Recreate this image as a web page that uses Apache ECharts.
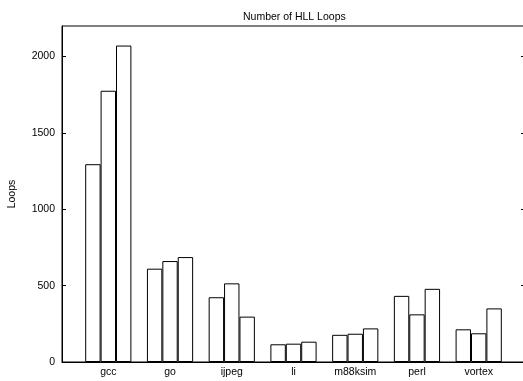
<!DOCTYPE html>
<html>
<head>
<meta charset="utf-8">
<script src="https://cdn.jsdelivr.net/npm/echarts@6/dist/echarts.min.js"></script>
<style>
  html, body { margin: 0; padding: 0; background: #fff; }
  #chart { width: 523px; height: 381px; }
</style>
</head>
<body>
<div id="chart"></div>
<script>
// benchmarks and three loop counts per benchmark
const benchmarks = ['gcc', 'go', 'ijpeg', 'li', 'm88ksim', 'perl', 'vortex'];
const loopsA = [1295, 611, 424, 116, 178, 433, 214];
const loopsB = [1776, 661, 515, 120, 185, 312, 188];
const loopsC = [2072, 687, 297, 133, 220, 479, 351];
const yTicks = [0, 500, 1000, 1500, 2000];

const chart = echarts.init(document.getElementById('chart'));

// bars sit on a numeric x axis so the outer padding can be 0.75 of a slot
function toPoints(arr) {
    return arr.map((v, i) => [i, v]);
}

const barStyle = {
    color: '#ffffff',
    borderColor: '#000000',
    borderWidth: 1
};

const option = {
    animation: false,
    backgroundColor: '#ffffff',
    textStyle: { fontFamily: 'Liberation Sans, Arial, sans-serif' },
    title: {
        text: 'Number of HLL Loops',
        left: 238,
        top: 7,
        textStyle: { fontSize: 10.5, fontWeight: 'normal', color: '#000' }
    },
    grid: {
        left: 62,
        top: 26,
        right: -2,
        bottom: 19,
        outerBoundsMode: 'none',
        containLabel: false,
        show: true,
        borderColor: '#000',
        borderWidth: 1,
        backgroundColor: 'transparent'
    },
    xAxis: {
        type: 'value',
        min: -0.75,
        max: 6.75,
        axisLine: { show: true, onZero: false, lineStyle: { color: '#000', width: 1 } },
        axisTick: { show: false },
        splitLine: { show: false },
        axisLabel: {
            customValues: benchmarks.map((b, i) => i),
            formatter: (v) => benchmarks[Math.round(v)],
            color: '#000',
            fontSize: 10.5,
            margin: 5
        }
    },
    yAxis: [
        {
            type: 'value',
            min: 0,
            max: 2200,
            interval: 500,
            name: 'Loops',
            nameLocation: 'middle',
            nameRotate: 90,
            nameGap: 44,
            nameTextStyle: { fontSize: 10.5, color: '#000' },
            axisLine: { show: true, onZero: false, lineStyle: { color: '#000', width: 1 } },
            axisTick: { show: true, inside: true, length: 4, customValues: yTicks, lineStyle: { color: '#000' } },
            splitLine: { show: false },
            axisLabel: {
                customValues: yTicks,
                formatter: (v) => String(v),
                color: '#000',
                fontSize: 10.5,
                margin: 7
            }
        },
        {
            type: 'value',
            position: 'right',
            min: 0,
            max: 2200,
            interval: 500,
            axisLine: { show: false, onZero: false },
            axisTick: { show: true, inside: true, length: 4, customValues: yTicks, lineStyle: { color: '#000' } },
            splitLine: { show: false },
            axisLabel: { show: false }
        }
    ],
    series: [
        { type: 'bar', data: toPoints(loopsA), barWidth: 15.4, barGap: '0%', itemStyle: barStyle },
        { type: 'bar', data: toPoints(loopsB), barWidth: 15.4, barGap: '0%', itemStyle: barStyle },
        { type: 'bar', data: toPoints(loopsC), barWidth: 15.4, barGap: '0%', itemStyle: barStyle }
    ]
};

chart.setOption(option);
</script>
</body>
</html>
